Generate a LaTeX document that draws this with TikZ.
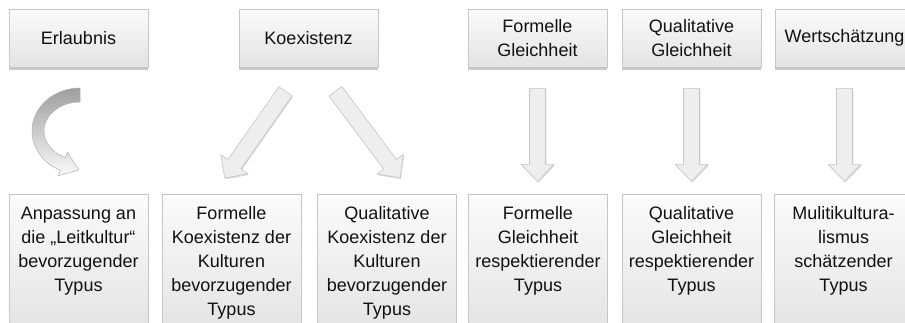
\documentclass[tikz,border=0pt]{standalone}
\usepackage{fontspec}
\setmainfont{Liberation Sans}
\usetikzlibrary{shadows,calc}
\definecolor{boxline}{HTML}{C6C6C6}
\definecolor{boxtop}{HTML}{FBFBFB}
\definecolor{boxbot}{HTML}{E3E3E3}
\definecolor{txt}{HTML}{111111}
\definecolor{arrowfill}{HTML}{EEEEEE}
\tikzset{
  boxstyle/.style={draw=boxline, line width=0.6pt, top color=boxtop, bottom color=boxbot,
    drop shadow={shadow xshift=0pt, shadow yshift=-2.5pt, opacity=0.3, fill=black!70}, inner sep=0pt},
  topbox/.style={boxstyle, minimum width=139pt, minimum height=58pt, align=center,
    font=\fontsize{18}{24}\selectfont, text=txt},
  botbox/.style={boxstyle, minimum width=139pt, minimum height=140pt, anchor=north},
  bottext/.style={anchor=north, inner sep=0pt, align=center, text=txt,
    font=\fontsize{18}{24}\selectfont},
  arrowstyle/.style={draw=boxline, line width=0.6pt, fill=arrowfill,
    drop shadow={shadow xshift=0.8pt, shadow yshift=-1.2pt, opacity=0.25, fill=black!60}},
  curvestyle/.style={draw=black!30, line width=0.5pt, top color=black!38, middle color=black!8, bottom color=black!2},
  pics/barrow/.style={code={
    \path[arrowstyle] (0,-8) -- ({#1-17},-8) -- ({#1-17},-16.5) -- (#1,0)
      -- ({#1-17},16.5) -- ({#1-17},8) -- (0,8) -- cycle;}}
}
\begin{document}
\begin{tikzpicture}[x=1pt,y=-1pt]
\useasboundingbox (0,0) rectangle (905,322);
\fill[white] (0,0) rectangle (905,322);
\clip (0,0) rectangle (905,322);

% top row
\node[topbox] (t1) at (78.5,38) {Erlaubnis};
\node[topbox] (t2) at (308.5,38) {Koexistenz};
\node[topbox] (t3) at (537.5,38) {Formelle\\Gleichheit};
\node[topbox] (t4) at (691.5,38) {Qualitative\\Gleichheit};
\node[topbox] (t5) at (844.5,38) {Wertschätzung};

% bottom row
\node[botbox] (b1) at (78.5,194) {};
\node[botbox] (b2) at (231.5,194) {};
\node[botbox] (b3) at (387,194) {};
\node[botbox] (b4) at (538,194) {};
\node[botbox] (b5) at (691.5,194) {};
\node[botbox] (b6) at (843.5,194) {};

\node[bottext] (b1t) at ([yshift=-12.5pt]b1.north) {Anpassung an\\die „Leitkultur“\\bevorzugender\\Typus};
\node[bottext] (b2t) at ([yshift=-12.5pt]b2.north) {Formelle\\Koexistenz der\\Kulturen\\bevorzugender\\Typus};
\node[bottext] (b3t) at ([yshift=-12.5pt]b3.north) {Qualitative\\Koexistenz der\\Kulturen\\bevorzugender\\Typus};
\node[bottext] (b4t) at ([yshift=-12.5pt]b4.north) {Formelle\\Gleichheit\\respektierender\\Typus};
\node[bottext] (b5t) at ([yshift=-12.5pt]b5.north) {Qualitative\\Gleichheit\\respektierender\\Typus};
\node[bottext] (b6t) at ([yshift=-12.5pt]b6.north) {Mulitikultura-\\lismus\\schätzender\\Typus};

% curved arrow (Erlaubnis -> Anpassung)
\draw[curvestyle]
  plot[domain=270:114, samples=60] ({80+48*cos(\x)},{131+43*sin(\x)})
  -- (58.5,175.6) -- (78.8,169.9) -- (67.4,152.2)
  -- plot[domain=114:270, samples=60] ({80+36*cos(\x)},{131+29*sin(\x)})
  -- cycle;

% diagonal arrows from Koexistenz
\pic[rotate=-125] at ([xshift=-23pt,yshift=-24pt]t2.south) {barrow=106};
\pic[rotate=-53.2] at ([xshift=27pt,yshift=-24pt]t2.south) {barrow=108};

% vertical arrows
\pic[rotate=-90] at ([yshift=-21pt]t3.south) {barrow=93};
\pic[rotate=-90] at ([yshift=-21pt]t4.south) {barrow=93};
\pic[rotate=-90] at ([yshift=-21pt]t5.south) {barrow=93};
\end{tikzpicture}
\end{document}
